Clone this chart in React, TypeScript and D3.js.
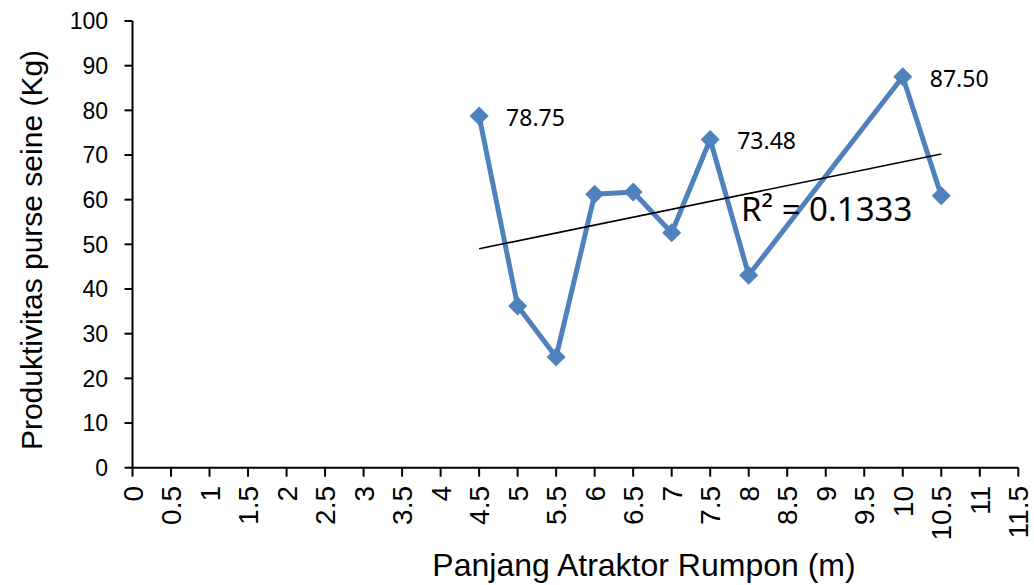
import { useMemo } from "react"
import { line as d3Line, mean, range, scaleLinear, symbol, symbolDiamond2 } from "d3"

const xTickValues = range(0, 11.51, 0.5)
const yTickValues = [0, 10, 20, 30, 40, 50, 60, 70, 80, 90, 100]

const panjang = [4.5, 5, 5.5, 6, 6.5, 7, 7.5, 8, 10, 10.5]
const produktivitas = [78.75, 36.2, 24.8, 61.2, 61.7, 52.6, 73.48, 43.1, 87.5, 60.9]
const labelledIdx = [0, 6, 8]
const r2Text = "R² = 0.1333"

const width = 1034
const height = 585
const lineColor = "#4f81bd"

export default function App() {
  const xScale = useMemo(() => scaleLinear().domain([0, 11.5]).range([132.5, 1018.3]), [])
  const yScale = useMemo(() => scaleLinear().domain([0, 100]).range([467.7, 21]), [])

  const points = panjang.map((x, i) => ({ x, y: produktivitas[i] }))

  // least squares trend line over the plotted points
  const trend = useMemo(() => {
    const mx = mean(panjang) ?? 0
    const my = mean(produktivitas) ?? 0
    let sxy = 0
    let sxx = 0
    panjang.forEach((x, i) => {
      sxy += (x - mx) * (produktivitas[i] - my)
      sxx += (x - mx) * (x - mx)
    })
    const slope = sxy / sxx
    const x0 = panjang[0]
    const x1 = panjang[panjang.length - 1]
    return [
      { x: x0, y: my + slope * (x0 - mx) },
      { x: x1, y: my + slope * (x1 - mx) },
    ]
  }, [])

  const pathGen = d3Line<{ x: number; y: number }>()
    .x((d) => xScale(d.x))
    .y((d) => yScale(d.y))

  const diamond = symbol().type(symbolDiamond2).size(230)() ?? ""

  const x0 = xScale(0)
  const yBase = yScale(0)

  return (
    <svg width={width} height={height} style={{ position: "absolute", left: 0, top: 0, background: "#fff" }}>
      {/* y axis */}
      <line x1={x0} x2={x0} y1={yScale(100)} y2={yBase} stroke="#000" strokeWidth={2} />
      {yTickValues.map((t) => (
        <g key={t}>
          <line x1={x0 - 8} x2={x0} y1={yScale(t)} y2={yScale(t)} stroke="#000" strokeWidth={2} />
          <text x={108} y={yScale(t)} dy="0.36em" textAnchor="end" fontFamily="Liberation Sans, Arial" fontSize={23}>
            {t}
          </text>
        </g>
      ))}

      {/* x axis */}
      <line x1={x0} x2={xScale(11.5)} y1={yBase} y2={yBase} stroke="#000" strokeWidth={2} />
      {xTickValues.map((t) => (
        <g key={t}>
          <line x1={xScale(t)} x2={xScale(t)} y1={yBase} y2={yBase + 9} stroke="#000" strokeWidth={2} />
          <text
            transform={`translate(${xScale(t)},${486}) rotate(-90)`}
            dy="0.36em"
            textAnchor="end"
            fontFamily="Liberation Sans, Arial"
            fontSize={28}
          >
            {t}
          </text>
        </g>
      ))}

      {/* axis titles */}
      <text x={644} y={576} textAnchor="middle" fontFamily="Liberation Sans, Arial" fontSize={32}>
        Panjang Atraktor Rumpon (m)
      </text>
      <text transform="translate(42,250) rotate(-90)" textAnchor="middle" fontFamily="Liberation Sans, Arial" fontSize={30}>
        Produktivitas purse seine (Kg)
      </text>

      {/* series */}
      <path d={pathGen(points) ?? ""} fill="none" stroke={lineColor} strokeWidth={5} strokeLinejoin="round" />
      {points.map((p, i) => (
        <path key={i} d={diamond} transform={`translate(${xScale(p.x)},${yScale(p.y)})`} fill={lineColor} />
      ))}

      {/* trend line */}
      <path d={pathGen(trend) ?? ""} fill="none" stroke="#000" strokeWidth={1.6} />

      {/* data labels */}
      {labelledIdx.map((i) => (
        <text
          key={i}
          x={xScale(panjang[i]) + 27}
          y={yScale(produktivitas[i]) + 10}
          fontFamily="Noto Sans, sans-serif"
          fontSize={23}
        >
          {produktivitas[i].toFixed(2)}
        </text>
      ))}

      <text x={741} y={221} fontFamily="Noto Sans, sans-serif" fontSize={33}>
        {r2Text}
      </text>
    </svg>
  )
}
